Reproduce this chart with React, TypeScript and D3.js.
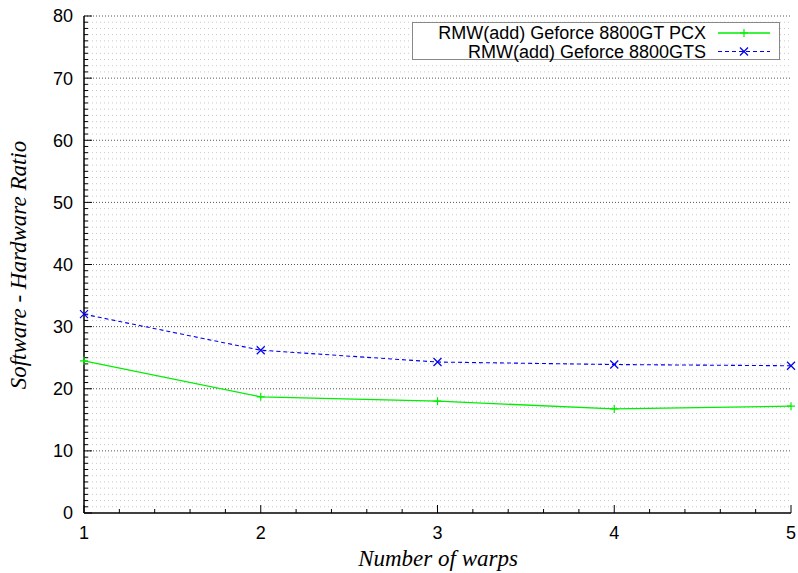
import React from "react";
import * as d3 from "d3";

const warps = [1, 2, 3, 4, 5];
const gtPcx = [24.5, 18.7, 18.0, 16.75, 17.2];
const gts = [32.0, 26.2, 24.3, 23.9, 23.7];
const seriesNames = ["RMW(add) Geforce 8800GT PCX", "RMW(add) Geforce 8800GTS"];
const yTicks = [0, 10, 20, 30, 40, 50, 60, 70, 80];
const xTicks = [1, 2, 3, 4, 5];

export default function App() {
  const W = 798, H = 573;
  const left = 84, right = 791, top = 16, bottom = 513;
  const x = d3.scaleLinear().domain([1, 5]).range([left, right]);
  const y = d3.scaleLinear().domain([0, 80]).range([bottom, top]);
  const line = d3.line<number>().x((_, i) => x(warps[i])).y((d) => y(d));
  const yMinor = d3.range(0, 81, 1);
  const xMinor = d3.range(1, 5.0001, 0.2);
  const font = "'Liberation Sans', Arial, sans-serif";
  const serif = "'Liberation Serif', 'Times New Roman', serif";

  const plus = (cx: number, cy: number, c: string, k: string) => (
    <path key={k} d={`M${cx - 4},${cy}H${cx + 4}M${cx},${cy - 4}V${cy + 4}`} stroke={c} strokeWidth={1.2} fill="none" />
  );
  const cross = (cx: number, cy: number, c: string, k: string) => (
    <path key={k} d={`M${cx - 4},${cy - 4}L${cx + 4},${cy + 4}M${cx - 4},${cy + 4}L${cx + 4},${cy - 4}`} stroke={c} strokeWidth={1.2} fill="none" />
  );

  return (
    <svg width={W} height={H} style={{ position: "absolute", left: 0, top: 0, background: "#fff" }}>
      {yMinor.filter((v) => v % 10 !== 0).map((v) => (
        <line key={"gm" + v} x1={left} x2={right} y1={y(v)} y2={y(v)} stroke="#c8c8c8" strokeWidth={1} strokeDasharray="1,3" />
      ))}
      {yTicks.filter((v) => v !== 0).map((v) => (
        <line key={"gM" + v} x1={left} x2={right} y1={y(v)} y2={y(v)} stroke="#555" strokeWidth={1} strokeDasharray="1,2" />
      ))}
      <line x1={left} x2={left} y1={top} y2={bottom} stroke="#000" strokeWidth={1.5} />
      <line x1={left} x2={right} y1={bottom} y2={bottom} stroke="#000" strokeWidth={1.5} />
      {yMinor.map((v) => (
        <line key={"yt" + v} x1={left} x2={left + (v % 10 === 0 ? 8 : 4)} y1={y(v)} y2={y(v)} stroke="#000" strokeWidth={1} />
      ))}
      {xMinor.map((v, i) => (
        <line key={"xt" + i} x1={x(v)} x2={x(v)} y1={bottom} y2={bottom - (i % 5 === 0 ? 8 : 4)} stroke="#000" strokeWidth={1} />
      ))}
      {yTicks.map((v) => (
        <text key={"yl" + v} x={left - 11} y={y(v)} dy="0.36em" textAnchor="end" fontFamily={font} fontSize={18}>{v}</text>
      ))}
      {xTicks.map((v) => (
        <text key={"xl" + v} x={x(v)} y={bottom + 20} dy="0.36em" textAnchor="middle" fontFamily={font} fontSize={18}>{v}</text>
      ))}
      <text x={438} y={558} dy="0.36em" textAnchor="middle" fontFamily={serif} fontStyle="italic" fontSize={23}>Number of warps</text>
      <text transform={`translate(18,265) rotate(-90)`} dy="0.36em" textAnchor="middle" fontFamily={serif} fontStyle="italic" fontSize={23}>Software - Hardware Ratio</text>
      <path d={line(gtPcx) || ""} fill="none" stroke="#00ee00" strokeWidth={1.3} />
      <path d={line(gts) || ""} fill="none" stroke="#0000ee" strokeWidth={1.1} strokeDasharray="4,3" />
      {gtPcx.map((v, i) => plus(x(warps[i]), y(v), "#00ee00", "p" + i))}
      {gts.map((v, i) => cross(x(warps[i]), y(v), "#0000ee", "c" + i))}
      <rect x={412.5} y={22.5} width={367} height={37} fill="#fff" stroke="#888" strokeWidth={1} />
      <text x={706} y={33} dy="0.36em" textAnchor="end" fontFamily={font} fontSize={18}>{seriesNames[0]}</text>
      <text x={706} y={51.5} dy="0.36em" textAnchor="end" fontFamily={font} fontSize={18}>{seriesNames[1]}</text>
      <line x1={718} x2={770} y1={33} y2={33} stroke="#00ee00" strokeWidth={1.3} />
      {plus(744, 33, "#00ee00", "lp")}
      <line x1={718} x2={770} y1={51.5} y2={51.5} stroke="#0000ee" strokeWidth={1.1} strokeDasharray="4,3" />
      {cross(744, 51.5, "#0000ee", "lc")}
    </svg>
  );
}
